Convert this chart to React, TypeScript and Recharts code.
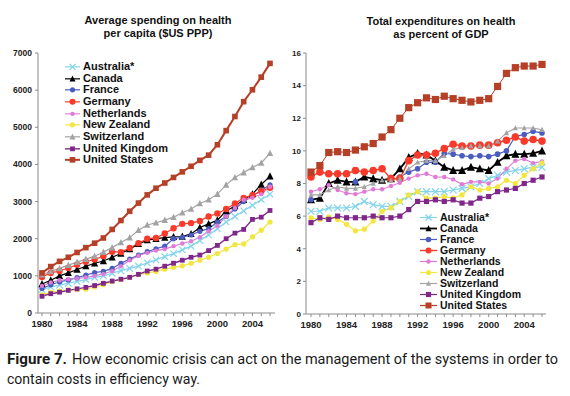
import React from "react";
import { LineChart, Line, XAxis, YAxis, Legend } from "recharts";

// years on both x axes
const years = [1980, 1981, 1982, 1983, 1984, 1985, 1986, 1987, 1988, 1989, 1990, 1991, 1992, 1993, 1994, 1995, 1996, 1997, 1998, 1999, 2000, 2001, 2002, 2003, 2004, 2005, 2006];
const yearTicks = years;
const labelYears = [1980, 1984, 1988, 1992, 1996, 2000, 2004];

// left panel: spending per capita ($US PPP)
const spendAustralia = [630, 700, 750, 800, 850, 900, 960, 1000, 1070, 1140, 1200, 1260, 1350, 1430, 1520, 1600, 1700, 1800, 1950, 2100, 2270, 2450, 2600, 2750, 2900, 3050, 3200];
const spendCanada = [780, 880, 1000, 1080, 1170, 1260, 1340, 1400, 1500, 1600, 1720, 1860, 1960, 2000, 2030, 2050, 2060, 2130, 2300, 2400, 2500, 2750, 2880, 3050, 3200, 3460, 3680];
const spendFrance = [660, 760, 840, 890, 950, 1020, 1090, 1120, 1200, 1340, 1450, 1560, 1650, 1730, 1800, 2000, 2040, 2100, 2200, 2270, 2450, 2600, 2800, 3000, 3150, 3300, 3450];
const spendGermany = [970, 1080, 1130, 1210, 1300, 1380, 1440, 1530, 1650, 1640, 1750, 1880, 2000, 2020, 2140, 2280, 2400, 2420, 2480, 2600, 2680, 2800, 2950, 3100, 3170, 3280, 3370];
const spendNetherlands = [730, 820, 880, 910, 930, 960, 1000, 1050, 1130, 1260, 1420, 1540, 1620, 1680, 1720, 1800, 1870, 1930, 2040, 2200, 2350, 2600, 2830, 3050, 3100, 3200, 3400];
const spendNewZealand = [490, 560, 590, 620, 630, 640, 700, 760, 850, 900, 960, 1040, 1080, 1120, 1180, 1230, 1270, 1340, 1420, 1500, 1600, 1720, 1840, 1860, 2050, 2230, 2450];
const spendSwitzerland = [1030, 1120, 1200, 1290, 1370, 1450, 1530, 1640, 1760, 1900, 2030, 2230, 2370, 2430, 2500, 2580, 2700, 2800, 2950, 3050, 3200, 3450, 3650, 3780, 3920, 4040, 4300];
const spendUK = [450, 520, 560, 610, 650, 690, 740, 800, 860, 910, 960, 1040, 1130, 1180, 1260, 1340, 1420, 1500, 1560, 1680, 1820, 2000, 2150, 2250, 2520, 2580, 2760];
const spendUS = [1080, 1250, 1390, 1500, 1630, 1760, 1880, 2020, 2250, 2490, 2740, 2960, 3180, 3360, 3500, 3650, 3800, 3950, 4110, 4250, 4530, 4910, 5290, 5690, 6010, 6350, 6720];

// right panel: total health expenditure as % of GDP
const gdpAustralia = [6.3, 6.3, 6.5, 6.5, 6.5, 6.6, 6.9, 6.7, 6.6, 6.6, 6.9, 7.2, 7.5, 7.5, 7.5, 7.5, 7.6, 7.7, 7.8, 8.0, 8.3, 8.5, 8.7, 8.8, 8.9, 9.0, 9.0];
const gdpCanada = [7.0, 7.1, 8.0, 8.2, 8.1, 8.1, 8.4, 8.3, 8.2, 8.3, 8.9, 9.6, 9.85, 9.75, 9.4, 9.0, 8.8, 8.8, 9.0, 8.9, 8.8, 9.3, 9.7, 9.8, 9.8, 9.85, 10.0];
const gdpFrance = [7.0, null, null, null, null, 8.1, null, null, null, null, 8.4, 8.7, 8.9, 9.3, 9.3, 9.85, 9.8, 9.7, 9.65, 9.7, 9.65, 9.8, 10.0, 10.9, 11.0, 11.2, 11.1];
const gdpGermany = [8.4, 8.7, 8.6, 8.6, 8.6, 8.8, 8.7, 8.8, 8.9, 8.3, 8.3, 9.4, 9.75, 9.75, 9.85, 10.15, 10.4, 10.3, 10.3, 10.35, 10.35, 10.5, 10.65, 10.85, 10.6, 10.7, 10.6];
const gdpNetherlands = [7.5, 7.65, 7.9, 7.6, 7.4, 7.35, 7.5, 7.65, 7.65, 7.85, 8.05, 8.3, 8.5, 8.6, 8.4, 8.4, 8.25, 7.95, 8.1, 8.1, 8.0, 8.3, 8.9, 9.4, 9.5, 9.25, 9.35];
const gdpNewZealand = [5.9, 5.8, 5.95, 5.8, 5.5, 5.1, 5.2, 5.7, 6.3, 6.5, 6.9, 7.3, 7.5, 7.1, 7.1, 7.2, 7.1, 7.3, 7.8, 7.6, 7.7, 7.8, 8.2, 8.0, 8.5, 8.9, 9.25];
const gdpSwitzerland = [7.3, 7.3, 7.6, 7.8, 7.7, 7.7, 7.8, 8.0, 8.2, 8.2, 8.3, 8.9, 9.3, 9.4, 9.4, 9.7, 10.1, 10.2, 10.3, 10.3, 10.3, 10.6, 11.1, 11.4, 11.4, 11.4, 11.3];
const gdpUK = [5.6, 5.9, 5.8, 6.0, 5.9, 5.9, 5.9, 6.0, 5.9, 5.9, 6.0, 6.4, 6.9, 6.9, 7.0, 6.9, 7.0, 6.8, 6.8, 7.1, 7.2, 7.5, 7.6, 7.7, 8.0, 8.2, 8.4];
const gdpUS = [8.7, 9.1, 9.9, 9.95, 9.9, 10.05, 10.25, 10.45, 10.85, 11.3, 12.0, 12.65, 12.95, 13.25, 13.15, 13.35, 13.2, 13.1, 13.0, 13.1, 13.2, 13.95, 14.75, 15.1, 15.2, 15.2, 15.3];

const leftTicks = [0, 1000, 2000, 3000, 4000, 5000, 6000, 7000];
const rightTicks = [0, 2, 4, 6, 8, 10, 12, 14, 16];

const FONT = "'Liberation Sans', Arial, sans-serif";

type Shape = "x" | "tri" | "circle" | "square";

// series styling, drawn in this order (US on top)
const series = [
  { key: "aus", name: "Australia*", color: "#82d4ea", shape: "x" as Shape, left: spendAustralia, right: gdpAustralia, s: 3.2, sr: 3.4, w: 1.2, wr: 1.2 },
  { key: "can", name: "Canada", color: "#000000", shape: "tri" as Shape, left: spendCanada, right: gdpCanada, s: 3.6, sr: 4, w: 1.2, wr: 1.8 },
  { key: "fra", name: "France", color: "#4a5cc0", shape: "circle" as Shape, left: spendFrance, right: gdpFrance, s: 2.6, sr: 2.8, w: 1.2, wr: 1.2 },
  { key: "ger", name: "Germany", color: "#f83a2a", shape: "circle" as Shape, left: spendGermany, right: gdpGermany, s: 3.2, sr: 3.8, w: 1.2, wr: 1.4 },
  { key: "ned", name: "Netherlands", color: "#e07ad6", shape: "circle" as Shape, left: spendNetherlands, right: gdpNetherlands, s: 2.2, sr: 2.2, w: 1.1, wr: 1.1 },
  { key: "nzl", name: "New Zealand", color: "#f2e640", shape: "circle" as Shape, left: spendNewZealand, right: gdpNewZealand, s: 2.6, sr: 2.6, w: 1.2, wr: 1.2 },
  { key: "che", name: "Switzerland", color: "#a3a3a3", shape: "tri" as Shape, left: spendSwitzerland, right: gdpSwitzerland, s: 3.2, sr: 2.6, w: 1.2, wr: 1.1 },
  { key: "gbr", name: "United Kingdom", color: "#80288a", shape: "square" as Shape, left: spendUK, right: gdpUK, s: 2.4, sr: 2.6, w: 1.4, wr: 1.2 },
  { key: "usa", name: "United States", color: "#b53f27", shape: "square" as Shape, left: spendUS, right: gdpUS, s: 2.8, sr: 3.6, w: 2, wr: 1 },
];

const leftData = years.map((y, i) => {
  const row: any = { year: y };
  series.forEach((s) => (row[s.key] = s.left[i]));
  return row;
});
const rightData = years.map((y, i) => {
  const row: any = { year: y };
  series.forEach((s) => (row[s.key] = s.right[i]));
  return row;
});

function Marker({ cx, cy, shape, color, size }: { cx: number; cy: number; shape: Shape; color: string; size: number }) {
  if (shape === "x") {
    return (
      <g stroke={color} strokeWidth={1.2}>
        <line x1={cx - size} y1={cy - size} x2={cx + size} y2={cy + size} />
        <line x1={cx - size} y1={cy + size} x2={cx + size} y2={cy - size} />
      </g>
    );
  }
  if (shape === "tri") {
    const h = size * 1.1;
    return <polygon points={`${cx},${cy - h} ${cx + size},${cy + h * 0.8} ${cx - size},${cy + h * 0.8}`} fill={color} />;
  }
  if (shape === "square") {
    return <rect x={cx - size} y={cy - size} width={size * 2} height={size * 2} fill={color} />;
  }
  return <circle cx={cx} cy={cy} r={size} fill={color} />;
}

const makeDot = (shape: Shape, color: string, size: number) => (p: any) => {
  if (p.cx == null || p.cy == null || isNaN(p.cy)) return <g key={p.key} />;
  return (
    <g key={p.key}>
      <Marker cx={p.cx} cy={p.cy} shape={shape} color={color} size={size} />
    </g>
  );
};

const makeLegend = (fontSize: number, rowH: number, iconW: number, big: boolean) => () => (
  <div style={{ fontFamily: FONT, fontSize, fontWeight: 700, color: "#111", lineHeight: `${rowH}px` }}>
    {series.map((s) => (
      <div key={s.key} style={{ display: "flex", alignItems: "center", height: rowH, whiteSpace: "nowrap" }}>
        <svg width={iconW} height={rowH} style={{ display: "block" }}>
          <line x1={0} y1={rowH / 2} x2={iconW} y2={rowH / 2} stroke={s.color} strokeWidth={big ? Math.max(s.wr, 1.2) : s.w} />
          <Marker cx={iconW / 2} cy={rowH / 2} shape={s.shape} color={s.color} size={Math.min(big ? s.sr : s.s, 3)} />
        </svg>
        <span style={{ marginLeft: 3 }}>{s.name}</span>
      </div>
    ))}
  </div>
);

const yearTick = (props: any) => {
  const { x, y, payload } = props;
  if (!labelYears.includes(payload.value)) return <g />;
  return (
    <text x={x} y={y + 9} textAnchor="middle" fontFamily={FONT} fontSize={9.5} fontWeight={700} fill="#222">
      {payload.value}
    </text>
  );
};

const axisStroke = "#8c8c8c";

function Title({ cx, top, lines }: { cx: number; top: number; lines: string[] }) {
  return (
    <div style={{ position: "absolute", left: cx - 110, top, width: 220, textAlign: "center", fontFamily: FONT, fontWeight: 700, fontSize: 11, lineHeight: "12.6px", color: "#111" }}>
      {lines.map((l) => (
        <div key={l}>{l}</div>
      ))}
    </div>
  );
}

export default function App() {
  return (
    <div style={{ position: "absolute", left: 0, top: 0, width: 570, height: 396, background: "#fff", overflow: "hidden" }}>
      <Title cx={158} top={14} lines={["Average spending on health", "per capita ($US PPP)"]} />
      <Title cx={441} top={15} lines={["Total expenditures on health", "as percent of GDP"]} />

      <div style={{ position: "absolute", left: 0, top: 0 }}>
        <LineChart width={285} height={340} data={leftData} margin={{ top: 53, right: 10, left: 0, bottom: 7 }}>
          <XAxis
            dataKey="year"
            type="number"
            domain={[1980, 2006]}
            ticks={yearTicks}
            interval={0}
            padding={{ left: 4, right: 5 }}
            stroke={axisStroke}
            tickSize={3}
            tick={yearTick}
            height={20}
          />
          <YAxis
            domain={[0, 7000]}
            ticks={leftTicks}
            interval={0}
            width={38}
            stroke={axisStroke}
            tickSize={3}
            tickMargin={3}
            tick={{ fontFamily: FONT, fontSize: 8.5, fontWeight: 700, fill: "#222" }}
          />
          {series.map((s) => (
            <Line
              key={s.key}
              dataKey={s.key}
              stroke={s.color}
              strokeWidth={s.w}
              dot={makeDot(s.shape, s.color, s.s)}
              activeDot={false}
              isAnimationActive={false}
            />
          ))}
          <Legend layout="vertical" align="center" verticalAlign="middle" wrapperStyle={{ left: 65, top: 61, width: 130 }} content={makeLegend(11, 11.67, 15, false)} />
        </LineChart>
      </div>

      <div style={{ position: "absolute", left: 285, top: 0 }}>
        <LineChart width={285} height={340} data={rightData} margin={{ top: 53, right: 24, left: 0, bottom: 6 }}>
          <XAxis
            dataKey="year"
            type="number"
            domain={[1980, 2006]}
            ticks={yearTicks}
            interval={0}
            padding={{ left: 5, right: 4 }}
            stroke={axisStroke}
            tickSize={3}
            tick={yearTick}
            height={20}
          />
          <YAxis
            domain={[0, 16]}
            ticks={rightTicks}
            interval={0}
            width={21}
            stroke={axisStroke}
            tickSize={3}
            tickMargin={2}
            tick={{ fontFamily: FONT, fontSize: 8, fontWeight: 700, fill: "#222" }}
          />
          {series.map((s) => (
            <Line
              key={s.key}
              dataKey={s.key}
              stroke={s.color}
              strokeWidth={s.wr}
              dot={makeDot(s.shape, s.color, s.sr)}
              activeDot={false}
              connectNulls={false}
              isAnimationActive={false}
            />
          ))}
          <Legend layout="vertical" align="center" verticalAlign="middle" wrapperStyle={{ left: 135, top: 212, width: 130 }} content={makeLegend(10.5, 11, 17, true)} />
        </LineChart>
      </div>

      <svg width={570} height={50} style={{ position: "absolute", left: 0, top: 346 }}>
        <text x={7} y={18} fontFamily="Roboto, sans-serif" fontSize={14.5} fontWeight={700} fill="#1a1a1a" textLength={60} lengthAdjust="spacingAndGlyphs">
          Figure 7.
        </text>
        <text x={72} y={18} fontFamily="Roboto, sans-serif" fontSize={14.5} fill="#1a1a1a" textLength={486} lengthAdjust="spacingAndGlyphs">
          How economic crisis can act on the management of the systems in order to
        </text>
        <text x={7} y={38} fontFamily="Roboto, sans-serif" fontSize={14.5} fill="#1a1a1a" textLength={193} lengthAdjust="spacingAndGlyphs">
          contain costs in efficiency way.
        </text>
      </svg>
    </div>
  );
}
